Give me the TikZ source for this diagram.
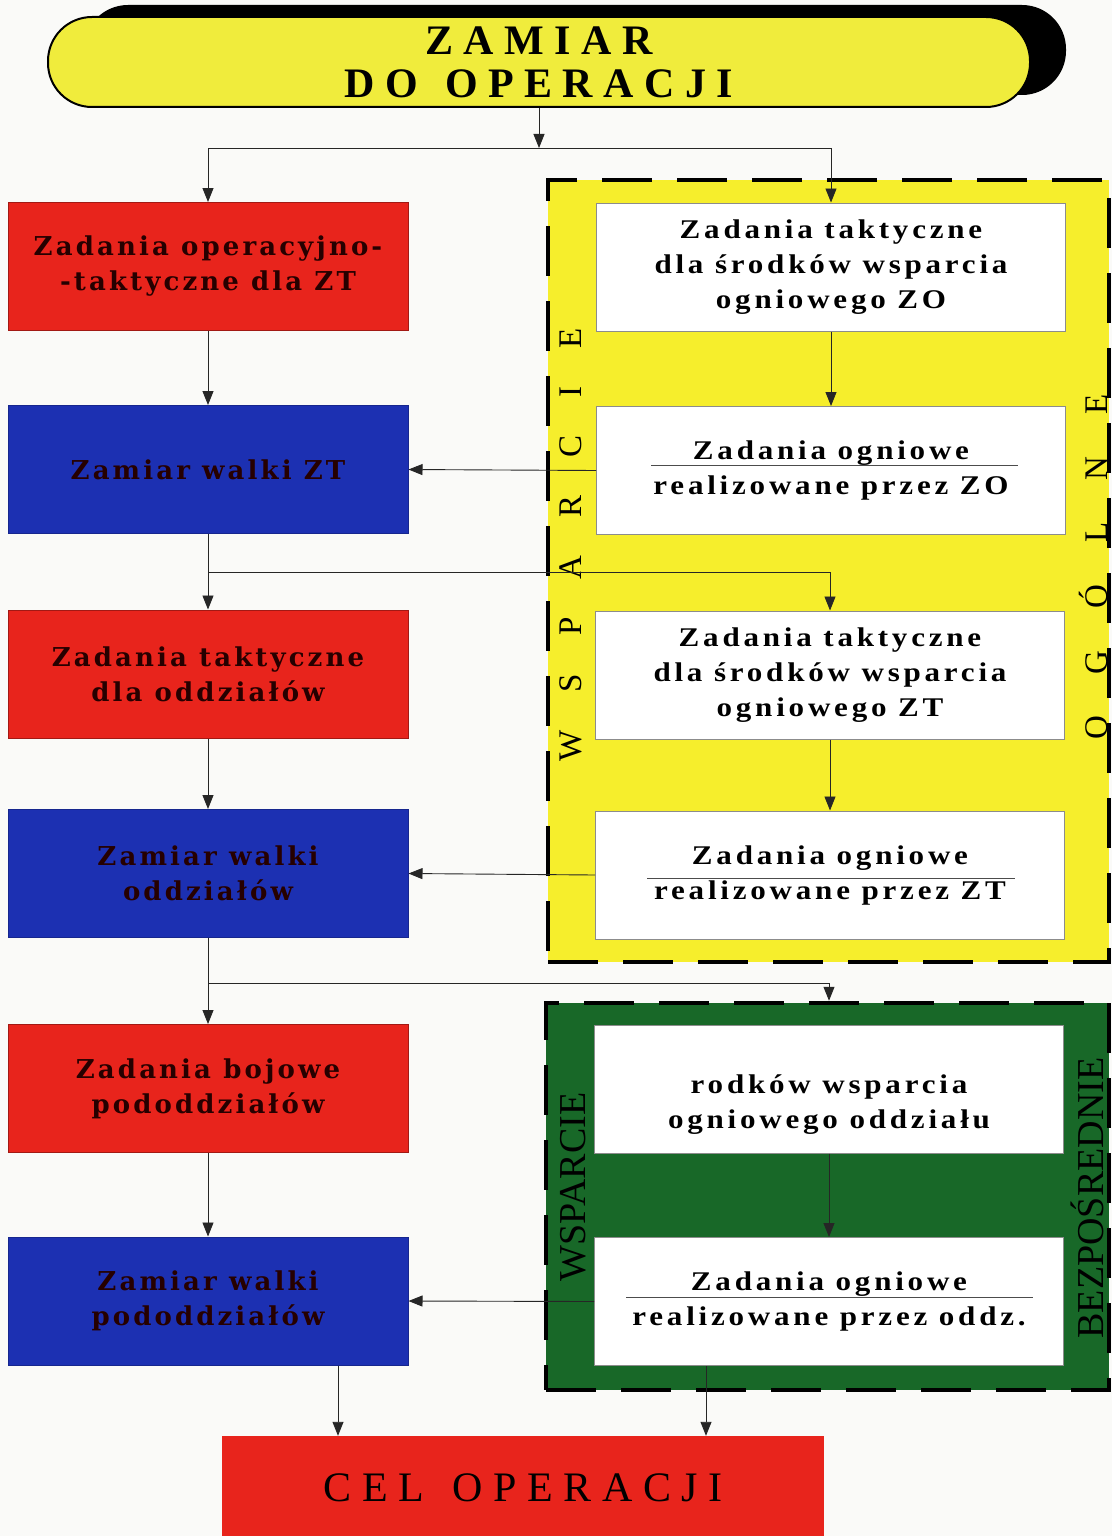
\documentclass[tikz,border=0pt]{standalone}
\usepackage{fontspec}
\setmainfont{Liberation Serif}
\newfontfamily\boxfont[LetterSpace=14,FakeStretch=1.15]{Liberation Serif Bold}
\newfontfamily\leftfont[LetterSpace=12]{DejaVu Serif Bold}
\newfontfamily\banfont[LetterSpace=25]{Liberation Serif Bold}
\newfontfamily\celfont[LetterSpace=25]{Liberation Serif}
\newfontfamily\sidefont{Liberation Serif}
\usetikzlibrary{arrows.meta,shadows}
\definecolor{bred}{RGB}{232,36,28}
\definecolor{bblue}{RGB}{28,48,178}
\definecolor{byel}{RGB}{246,238,44}
\definecolor{bgreen}{RGB}{24,104,40}
\definecolor{bannery}{RGB}{240,236,60}
\definecolor{paper}{RGB}{250,250,248}
\begin{document}
\begin{tikzpicture}[x=1pt,y=-1pt,
  arr/.style={draw=black!85, line width=0.9pt, -{Triangle[length=14pt,width=11pt]}},
  boxtext/.style={font=\boxfont\fontsize{27}{35}\selectfont, align=center, inner sep=0pt},
  leftbox/.style={font=\leftfont\fontsize{26}{35}\selectfont, align=center, inner sep=0pt,
                  minimum width=400pt, minimum height=128pt, text=black!85!red},
  redbox/.style={leftbox, fill=bred, draw=bred!70!black, line width=1pt},
  bluebox/.style={leftbox, fill=bblue, draw=bblue!80!black, line width=1pt},
  whitebox/.style={boxtext, minimum width=469pt, minimum height=128pt, fill=white, draw=black!45, line width=1pt},
  region/.style={draw=black, line width=4.5pt, dash pattern=on 50pt off 25pt},
  sidetxt/.style={rotate=90, font=\sidefont\fontsize{33}{33}\selectfont, inner sep=0pt},
  divider/.style={draw=black!70, line width=0.8pt}
]
\path[use as bounding box, clip] (0,0) rectangle (1112,1536);
\fill[paper] (0,0) rectangle (1112,1536);

% banner
\node[fill=bannery, draw=black, line width=2pt, rounded corners=44pt,
      minimum width=982pt, minimum height=90pt, inner sep=0pt,
      drop shadow={shadow xshift=36pt, shadow yshift=12pt, fill=black, opacity=1},
      font=\banfont\fontsize{42}{43}\selectfont, align=center] (ban) at (539,62)
      {ZAMIAR\\DO\hspace{6pt} OPERACJI};

% regions
\node[region, fill=byel, minimum width=561pt, minimum height=782pt] (yel) at (828.5,571) {};
\node[region, fill=bgreen, minimum width=563pt, minimum height=387pt] (grn) at (827.5,1196.5) {};

% left column
\node[redbox]  (r1) at (208,266.5) {Zadania operacyjno-\\-taktyczne dla ZT};
\node[bluebox] (b1) at (208,469.5) {Zamiar walki ZT};
\node[redbox]  (r2) at (208,674)   {Zadania taktyczne\\dla oddziałów};
\node[bluebox] (b2) at (208,873.5) {Zamiar walki\\oddziałów};
\node[redbox]  (r3) at (208,1088.5){Zadania bojowe\\pododdziałów};
\node[bluebox] (b3) at (208,1301)  {Zamiar walki\\pododdziałów};

% right column
\node[whitebox] (w1) at (831,267)   {Zadania taktyczne\\dla środków wsparcia\\ogniowego ZO};
\node[whitebox] (w2) at (831,470.5) {Zadania ogniowe\\realizowane przez ZO};
\node[whitebox] (w3) at (830,675)   {Zadania taktyczne\\dla środków wsparcia\\ogniowego ZT};
\node[whitebox] (w4) at (830,875)   {Zadania ogniowe\\realizowane przez ZT};
\node[whitebox, label={[boxtext, yshift=-16pt]center:rodków wsparcia\\ogniowego oddziału}] (w5) at (829,1089) {};
\node[whitebox] (w6) at (829,1301.5){Zadania ogniowe\\realizowane przez oddz.};

\draw[divider] ([xshift=-180pt,yshift=5pt]w2.center) -- ([xshift=187pt,yshift=5pt]w2.center);
\draw[divider] ([xshift=-183pt,yshift=-3pt]w4.center) -- ([xshift=185pt,yshift=-3pt]w4.center);
\draw[divider] ([xshift=-203pt,yshift=4.5pt]w6.center) -- ([xshift=204pt,yshift=4.5pt]w6.center);

% side labels
\node[sidetxt] (s1) at (571,545) {\spaceskip=38pt W S P A R C I E};
\node[sidetxt] (s2) at (1093,567) {\spaceskip=42pt O G Ó L N E};
\node[sidetxt, font=\sidefont\fontsize{38}{38}\selectfont] (s3) at (573,1187) {WSPARCIE};
\node[sidetxt, font=\sidefont\fontsize{38}{38}\selectfont] (s4) at (1087,1198) {BEZPOŚREDNIE};

% goal
\node[fill=bred, minimum width=602pt, minimum height=104pt, inner sep=0pt,
      font=\celfont\fontsize{42}{42}\selectfont] (cel) at (523,1488) {CEL\hspace{8pt} OPERACJI};

% connectors
\coordinate (jun1) at (539,148);
\draw[arr] (ban.south) -- (jun1);
\draw[arr] (jun1) -| (r1.north);
\draw[arr] (jun1) -| (w1.north);
\draw[arr] (r1.south) -- (b1.north);
\draw[arr] (w1.south) -- (w2.north);
\draw[arr] (w2.west) -- (b1.east);
\draw[arr] (b1.south) -- (r2.north);
\coordinate (jun2) at (208,572);
\draw[arr] (jun2) -| (w3.north);
\draw[arr] (w3.south) -- (w4.north);
\draw[arr] (r2.south) -- (b2.north);
\draw[arr] (w4.west) -- (b2.east);
\draw[arr] (b2.south) -- (r3.north);
\coordinate (jun3) at (208,983);
\draw[arr] (jun3) -| (w5.north |- grn.north);
\draw[arr] (w5.south) -- (w6.north);
\draw[arr] (w6.west) -- (b3.east);
\draw[arr] (r3.south) -- (b3.north);
\coordinate (c1) at ([xshift=130pt]b3.south);
\draw[arr] (c1) -- (c1 |- cel.north);
\coordinate (c2) at ([xshift=-123pt]w6.south);
\draw[arr] (c2) -- (c2 |- cel.north);
\end{tikzpicture}
\end{document}
